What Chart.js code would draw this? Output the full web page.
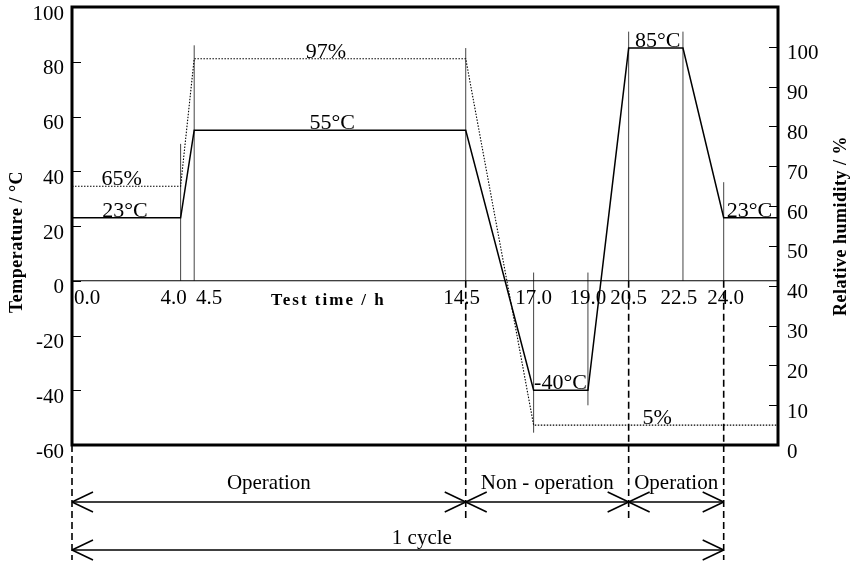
<!DOCTYPE html>
<html>
<head>
<meta charset="utf-8">
<script src="https://cdn.jsdelivr.net/npm/chart.js@4.4.1/dist/chart.umd.min.js"></script>
<style>
  html, body { margin:0; padding:0; background:#fff; }
  #wrap { width:853px; height:562px; position:relative; }
</style>
</head>
<body>
<div id="wrap"><canvas id="cycleChart"></canvas></div>
<script>
// Temperature / humidity test cycle (one 24 h cycle)
const TIME_T = [0, 4.0, 4.5, 14.5, 17.0, 19.0, 20.5, 22.5, 24.0, 26];
const TEMP   = [23, 23, 55, 55, -40, -40, 85, 85, 23, 23];
const TIME_H = [0, 4.0, 4.5, 14.5, 17.0, 26];
const HUMID  = [65, 65, 97, 97, 5, 5];

const X_TICKS    = [0, 4.0, 4.5, 14.5, 17.0, 19.0, 20.5, 22.5, 24.0];
const TEMP_TICKS = [-60, -40, -20, 0, 20, 40, 60, 80, 100];
const RH_TICKS   = [0, 10, 20, 30, 40, 50, 60, 70, 80, 90, 100];

// thin vertical guide lines (range in °C)
const GUIDE_X   = [4.0, 4.5, 14.5, 17.0, 19.0, 20.5, 22.5, 24.0];
const GUIDE_TOP = [50, 86, 85, 3, 3, 91, 91, 36];
const GUIDE_BOT = [0, 0, 0, -55.5, -45.5, 0, 0, 0];

// phase boundaries + names
const PHASE_X     = [0, 14.5, 20.5, 24.0];
const PHASE_NAMES = ["Operation", "Non - operation", "Operation"];
const CYCLE_NAME  = "1 cycle";

// value labels on the curves
const LABEL_TEXT = ["65%", "23°C", "97%", "55°C", "-40°C", "85°C", "23°C", "5%"];
const LABEL_X    = [1.83, 1.95, 9.35, 9.58, 17.99, 21.57, 24.95, 21.55];
const LABEL_Y    = [65, 23, 97, 55, -40, 85, 23, 5];
const LABEL_AXIS = ["yH", "yT", "yH", "yT", "yT", "yT", "yT", "yH"];

const SERIF = "'Liberation Serif', 'DejaVu Serif', serif";

const pts = (xs, ys) => xs.map((x, i) => ({ x, y: ys[i] }));

// ── datasets ──────────────────────────────────────────────────────────────
const datasets = [
    { label:"Temperature", data:pts(TIME_T, TEMP), yAxisID:"yT",
      borderColor:"#000", borderWidth:1.5, pointRadius:0, tension:0 },
    { label:"Humidity", data:pts(TIME_H, HUMID), yAxisID:"yH",
      borderColor:"#000", borderWidth:1.1, borderDash:[1.5,1.5], pointRadius:0, tension:0 },
    { label:"zero", data:[{x:0,y:0},{x:26,y:0}], yAxisID:"yT",
      borderColor:"#000", borderWidth:1.2, pointRadius:0 },
];
GUIDE_X.forEach((x, i) => datasets.push({
    data:[{x, y:GUIDE_BOT[i]}, {x, y:GUIDE_TOP[i]}], yAxisID:"yT",
    borderColor:"#444", borderWidth:1, pointRadius:0 }));
PHASE_X.forEach(x => datasets.push({
    data:[{x, y:0}, {x, y:-60}], yAxisID:"yT",
    borderColor:"#000", borderWidth:1.6, borderDash:[7,4], pointRadius:0 }));

// ── frame, ticks, labels, arrows ─────────────────────────────────────────
function seg(ctx, x1, y1, x2, y2) {
    ctx.beginPath(); ctx.moveTo(x1, y1); ctx.lineTo(x2, y2); ctx.stroke();
}
function arrowHead(ctx, x, y, dir) {
    seg(ctx, x, y, x - dir*21, y - 10);
    seg(ctx, x, y, x - dir*21, y + 10);
}
function doubleArrow(ctx, x1, x2, y) {
    seg(ctx, x1, y, x2, y);
    arrowHead(ctx, x1, y, -1);
    arrowHead(ctx, x2, y, 1);
}

const notesPlugin = {
    id: "notes",
    afterDraw(chart) {
        const { ctx, chartArea:a, scales } = chart;
        const xs = scales.x, yT = scales.yT, yH = scales.yH;
        ctx.save();
        ctx.strokeStyle = "#000";
        ctx.fillStyle = "#000";

        // frame
        ctx.lineWidth = 3;
        ctx.strokeRect(a.left, a.top, a.right - a.left, a.bottom - a.top);

        // inward tick marks
        ctx.lineWidth = 1;
        TEMP_TICKS.forEach(v => {
            const y = Math.round(yT.getPixelForValue(v)) + 0.5;
            seg(ctx, a.left, y, a.left + 9, y);
        });
        RH_TICKS.forEach(v => {
            const y = Math.round(yH.getPixelForValue(v)) + 0.5;
            seg(ctx, a.right - 9, y, a.right, y);
        });

        // x tick labels sit under the 0 °C line
        const y0 = yT.getPixelForValue(0);
        ctx.font = `21px ${SERIF}`;
        ctx.textBaseline = "alphabetic";
        const nudge = { 4: -7, 4.5: 15, 14.5: -4, 22.5: -4, 24: 2 };
        X_TICKS.forEach(v => {
            const txt = v.toFixed(1);
            if (v === 0) {
                ctx.textAlign = "left";
                ctx.fillText(txt, a.left + 2, y0 + 23);
            } else {
                ctx.textAlign = "center";
                ctx.fillText(txt, xs.getPixelForValue(v) + (nudge[v] || 0), y0 + 23);
            }
        });

        // x axis title
        ctx.font = `bold 17px ${SERIF}`;
        ctx.letterSpacing = "2px";
        ctx.textAlign = "center";
        ctx.textBaseline = "middle";
        ctx.fillText("Test time / h", xs.getPixelForValue(9.44), y0 + 20);

        // y axis titles (both read bottom to top)
        ctx.font = `bold 18px ${SERIF}`;
        ctx.letterSpacing = "0.5px";
        ctx.save();
        ctx.translate(17, 242); ctx.rotate(-Math.PI/2);
        ctx.fillText("Temperature / °C", 0, 0);
        ctx.restore();
        ctx.save();
        ctx.translate(841, 226); ctx.rotate(-Math.PI/2);
        ctx.fillText("Relative humidity / %", 0, 0);
        ctx.restore();
        ctx.letterSpacing = "0px";

        // value labels
        ctx.font = `22px ${SERIF}`;
        ctx.textAlign = "center";
        ctx.textBaseline = "alphabetic";
        LABEL_TEXT.forEach((t, i) => {
            const ys = LABEL_AXIS[i] === "yH" ? yH : yT;
            ctx.fillText(t, xs.getPixelForValue(LABEL_X[i]), ys.getPixelForValue(LABEL_Y[i]) - 1);
        });

        // phase dividers below the plot
        const row1 = a.bottom + 57, row2 = a.bottom + 105;
        ctx.lineWidth = 1.6;
        ctx.setLineDash([7, 4]);
        PHASE_X.forEach((x, i) => {
            const px = xs.getPixelForValue(x);
            const end = (i === 0 || i === PHASE_X.length - 1) ? row2 + 10 : row1 + 20;
            seg(ctx, px, a.bottom, px, end);
        });
        ctx.setLineDash([]);

        // arrows + names
        ctx.lineWidth = 1.5;
        ctx.font = `21px ${SERIF}`;
        ctx.textBaseline = "middle";
        PHASE_NAMES.forEach((name, i) => {
            const x1 = xs.getPixelForValue(PHASE_X[i]), x2 = xs.getPixelForValue(PHASE_X[i+1]);
            doubleArrow(ctx, x1, x2, row1);
            ctx.fillText(name, (x1 + x2) / 2, a.bottom + 38);
        });
        const c1 = xs.getPixelForValue(PHASE_X[0]), c2 = xs.getPixelForValue(PHASE_X[PHASE_X.length-1]);
        doubleArrow(ctx, c1, c2, row2);
        ctx.fillText(CYCLE_NAME, (c1 + c2) / 2 + 24, row2 - 12);

        ctx.restore();
    }
};

const noEdgePad = s => { s.paddingTop = 0; s.paddingBottom = 0; };

new Chart(document.getElementById("cycleChart"), {
    type: "line",
    data: { datasets },
    plugins: [notesPlugin],
    options: {
        responsive:true, maintainAspectRatio:false, animation:false,
        layout:{ padding:{ top:7, bottom:117, left:0, right:0 } },
        plugins:{ legend:{display:false}, tooltip:{enabled:false} },
        scales:{
            x:{ type:"linear", min:0, max:26, display:false },
            yT:{ position:"left", min:-60, max:100,
                 afterBuildTicks: s => { s.ticks = TEMP_TICKS.map(value => ({ value })); },
                 afterFit: s => { s.width = 72; noEdgePad(s); },
                 grid:{ display:false, drawTicks:false },
                 border:{ display:false },
                 ticks:{ color:"#000", font:{ family:SERIF, size:21 }, padding:8, labelOffset:7 } },
            yH:{ position:"right", min:0, max:110,
                 afterBuildTicks: s => { s.ticks = RH_TICKS.map(value => ({ value })); },
                 afterFit: s => { s.width = 75; noEdgePad(s); },
                 grid:{ display:false, drawTicks:false },
                 border:{ display:false },
                 ticks:{ color:"#000", font:{ family:SERIF, size:21 }, padding:9, labelOffset:7 } },
        },
    },
});
</script>
</body>
</html>
